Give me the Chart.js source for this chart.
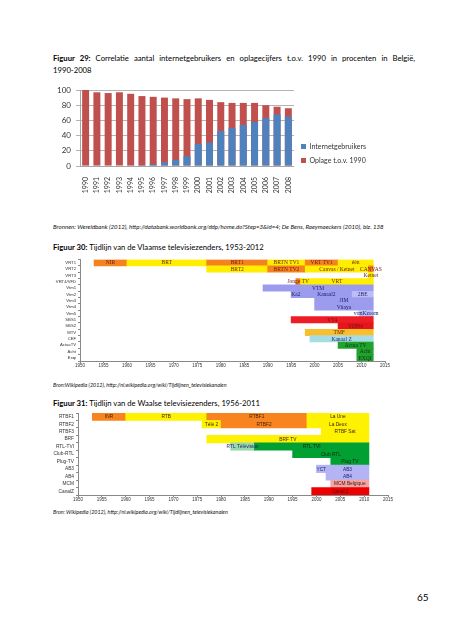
<!DOCTYPE html>
<html>
<head>
<meta charset="utf-8">
<script src="https://cdn.jsdelivr.net/npm/chart.js@4.4.1/dist/chart.umd.min.js"></script>
<style>
  html, body { margin: 0; padding: 0; background: #fff; }
  body { width: 453px; height: 640px; position: relative; overflow: hidden; font-family: Lato, "Liberation Sans", sans-serif; color: #000; }
  .title { position: absolute; left: 53px; font-size: 7.7px; line-height: 12px; white-space: nowrap; }
  .wide { display: block; width: 362px; white-space: normal; text-align: justify; text-align-last: justify; }
  .src { position: absolute; left: 53px; font-size: 6.1px; font-style: italic; white-space: nowrap; color: #111; }
  .src.short { font-size: 5.4px; }
  .pnum { position: absolute; left: 417px; top: 591px; font-size: 10px; }
  canvas { position: absolute; }
</style>
</head>
<body>

<div class="title" style="top:52px"><span class="wide"><b>Figuur 29:</b> Correlatie aantal internetgebruikers en oplagecijfers t.o.v. 1990 in procenten in België,</span>1990-2008</div>
<canvas id="fig29" width="340" height="137" style="left:40px;top:80px"></canvas>
<div class="src" style="top:223px">Bronnen: Wereldbank (2012), http://databank.worldbank.org/ddp/home.do?Step=3&amp;id=4; De Bens, Raeymaeckers (2010), blz. 138</div>

<div class="title" style="top:241px"><b>Figuur 30:</b> Tijdlijn van de Vlaamse televisiezenders, 1953-2012</div>
<canvas id="fig30" width="380" height="114" style="left:20px;top:255px"></canvas>
<div class="src short" style="top:382px">Bron:Wikipedia (2012), http://nl.wikipedia.org/wiki/Tijdlijnen_televisiekanalen</div>

<div class="title" style="top:397px"><b>Figuur 31:</b> Tijdlijn van de Waalse televisiezenders, 1956-2011</div>
<canvas id="fig31" width="385" height="96" style="left:20px;top:408px"></canvas>
<div class="src short" style="top:509px">Bron: Wikipedia (2012), http://nl.wikipedia.org/wiki/Tijdlijnen_televisiekanalen</div>

<div class="pnum">65</div>

<script>
// --- figuur 29 data ---
const years = ['1990','1991','1992','1993','1994','1995','1996','1997','1998','1999','2000','2001','2002','2003','2004','2005','2006','2007','2008'];
const internetgebruikers = [0.3, 0.4, 0.5, 0.7, 1, 1.3, 2.5, 5, 8, 13, 29, 31, 46, 50, 54, 58, 63, 68, 65];
const oplage = [100, 97, 96, 97, 95, 92, 91, 90, 89, 88, 89, 87, 84, 83, 83, 83, 80, 78, 76];
const seriesNames = ['Internetgebruikers', 'Oplage t.o.v. 1990'];
const pctTicks = [0, 20, 40, 60, 80, 100];

// --- figuur 30 data (Vlaamse zenders) ---
const vlRows = ['VRT1','VRT2','VRT3','VRT4/VFD','Vtm1','Vtm2','Vtm3','Vtm4','Vtm5','SBS1','SBS2','MTV','CEF','ActuaTV','Acht','Exqi'];
const vlName = ['NIR','BRT','BRT1','BRTN TV1','VRT TV1','één','BRT2','BRTN TV2','Canvas / Ketnet','CANVAS','Ketnet','Jonge TV','VRT','VTM','Ka2','Kanaal2','2BE','JIM','Vitaya','vtmKzoom','VT4','VIJFtv','TMF','Kanaal Z','Actua TV','Acht','EXQI'];
const vlRow  = [0,0,0,0,0,0, 1,1,1,1, 2, 3,3, 4, 5,5,5, 6, 7, 8, 9, 10, 11, 12, 13, 14, 15];
const vlFrom = [1953,1960,1977,1990,1998,2005, 1977,1990,1998,2011.5, 2011.5, 1996,1997, 1989, 1995,1997,2008, 2000, 2000, 2009.5, 1995, 2005, 1998, 1999, 2005, 2009, 2009];
const vlTo   = [1960,1977,1990,1998,2005,2012.5, 1990,1998,2011.5,2012.5, 2012.5, 1997,2012.5, 2012.5, 1997,2008,2012.5, 2012.5, 2012.5, 2012.5, 2012.5, 2012.5, 2012.5, 2012.5, 2012.5, 2012.5, 2012.5];
const vlKind = ['pubA','pubB','pubA','pubB','pubA','pubB', 'pubB','pubA','pubB','pubA', 'pubB', 'pubA','pubB', 'vmma', 'vmma','vmma','vmmaNew', 'vmma', 'vmma', 'vmmaNew', 'sbs', 'sbs2', 'mtv', 'roul', 'indep', 'indep', 'indep'];
const vlYears = [1950,1955,1960,1965,1970,1975,1980,1985,1990,1995,2000,2005,2010,2015];

// --- figuur 31 data (Waalse zenders) ---
const wlRows = ['RTBF1','RTBF2','RTBF3','BRF','RTL-TVI','Club-RTL','Plug-TV','AB3','AB4','MCM','CanalZ'];
const wlName = ['INR','RTB','RTBF1','La Une','Télé 2','RTBF2','La Deux','RTBF Sat','BRF TV','RTL Télévision','RTL TVI','Club RTL','Plug TV','YCT','AB3','AB4','MCM Belgique','Canal Z'];
const wlRow  = [0,0,0,0, 1,1,1, 2, 3, 4,4, 5, 6, 7,7, 8, 9, 10];
const wlFrom = [1953,1960,1977,1998, 1976,1980,1998, 2001, 1977, 1982,1987, 1995, 2003, 2000,2002, 2002, 2003, 1999];
const wlTo   = [1960,1977,1998,2011, 1980,1998,2011, 2011, 2011, 1987,2011, 2011, 2011, 2002,2011, 2011, 2011, 2011];
const wlKind = ['pubA','pubB','pubA','pubB', 'pubB','pubA','pubB', 'pubB', 'pubB', 'rtlOld','rtl', 'rtl', 'rtl', 'ab','ab', 'ab', 'mcm', 'canalz'];
const wlYears = [1950,1955,1960,1965,1970,1975,1980,1985,1990,1995,2000,2005,2010,2015];

// --- styles ---
const vlFill = { pubA: '#F5821F', pubB: '#FFEE00', vmma: '#9C9CEE', vmmaNew: '#BDBDF6', sbs: '#EE1C24', sbs2: '#E3161E', mtv: '#F8BE2C', roul: '#A8DCE5', indep: '#1FA32E' };
const vlInk  = { pubA: '#6b1a10', pubB: '#6b1a10', vmma: '#1c1c6a', vmmaNew: '#1c1c6a', sbs: '#6b1010', sbs2: '#6b1010', mtv: '#6b1a10', roul: '#1c1c6a', indep: '#103010' };
const wlFill = { pubA: '#F7841F', pubB: '#FFF200', rtlOld: '#98D9AE', rtl: '#00A032', ab: '#B4B4F5', mcm: '#F4A4A4', canalz: '#EE0000' };
const wlInk  = { pubA: '#402010', pubB: '#402010', rtlOld: '#1c1c6a', rtl: '#102a10', ab: '#1c1c6a', mcm: '#402010', canalz: '#401010' };

// text in the middle of every floating bar
function barText(names, inks, font) {
  return {
    id: 'barText',
    afterDatasetsDraw(chart) {
      const ctx = chart.ctx;
      const meta = chart.getDatasetMeta(0);
      ctx.save();
      ctx.font = font;
      ctx.textAlign = 'center';
      ctx.textBaseline = 'middle';
      meta.data.forEach(function (bar, i) {
        const p = bar.getProps(['x', 'y', 'base'], true);
        ctx.fillStyle = inks[i];
        ctx.fillText(names[i], (p.x + p.base) / 2, p.y + 0.3);
      });
      ctx.restore();
    }
  };
}

// --- figuur 29 ---
new Chart(document.getElementById('fig29'), {
  type: 'bar',
  data: {
    labels: years,
    datasets: [{
      label: seriesNames[0],
      data: internetgebruikers,
      backgroundColor: '#4F81BD',
      grouped: false,
      barPercentage: 0.62,
      categoryPercentage: 1
    }, {
      label: seriesNames[1],
      data: oplage,
      backgroundColor: '#C0504D',
      grouped: false,
      barPercentage: 0.62,
      categoryPercentage: 1
    }]
  },
  options: {
    responsive: false,
    animation: false,
    layout: { padding: { top: 10, right: 4 } },
    plugins: {
      tooltip: { enabled: false },
      legend: {
        position: 'right',
        labels: { boxWidth: 5, boxHeight: 5, padding: 7, color: '#333', font: { family: 'Lato', size: 7 } }
      }
    },
    scales: {
      x: {
        grid: { display: false },
        border: { color: '#A6A6A6' },
        ticks: { minRotation: 90, maxRotation: 90, autoSkip: false, padding: 3, color: '#333', font: { family: 'Lato', size: 7 } },
        afterFit: function (s) { s.height = 51; }
      },
      y: {
        min: pctTicks[0],
        max: pctTicks[pctTicks.length - 1],
        ticks: { stepSize: pctTicks[1] - pctTicks[0], padding: 5, color: '#333', font: { family: 'Lato', size: 8 } },
        grid: { color: '#B4B4B4', tickLength: 4 },
        border: { color: '#A6A6A6' },
        afterFit: function (s) { s.width = 40; }
      }
    }
  }
});

// --- timelines ---
function timeline(id, rows, rowIdx, from, to, names, kinds, fill, ink, ticks, pad, axisH, labelW, opts) {
  const inks = kinds.map(function (k) { return ink[k]; });
  new Chart(document.getElementById(id), {
    type: 'bar',
    data: {
      labels: rows,
      datasets: [{
        data: rowIdx.map(function (r, i) { return { y: rows[r], x: [from[i], to[i]] }; }),
        backgroundColor: kinds.map(function (k) { return fill[k]; }),
        borderWidth: 0,
        grouped: false,
        barPercentage: 1,
        categoryPercentage: 1
      }]
    },
    options: {
      indexAxis: 'y',
      responsive: false,
      animation: false,
      layout: { padding: pad },
      plugins: { legend: { display: false }, tooltip: { enabled: false } },
      scales: {
        x: {
          type: 'linear',
          min: ticks[0],
          max: ticks[ticks.length - 1],
          ticks: { stepSize: ticks[1] - ticks[0], padding: 0, color: '#333', font: { family: opts.tickFamily, size: 4.5 }, callback: function (v) { return String(v); } },
          grid: { drawOnChartArea: false, tickLength: 2, color: '#888' },
          border: { color: '#888' },
          afterFit: function (s) { s.height = axisH; }
        },
        y: {
          ticks: { autoSkip: false, padding: 2, color: '#333', font: { family: opts.tickFamily, size: opts.rowSize } },
          grid: { drawOnChartArea: false, tickLength: 2, color: '#888' },
          border: { color: '#888' },
          afterFit: function (s) { s.width = labelW; }
        }
      }
    },
    plugins: [barText(names, inks, opts.barFont)]
  });
}

timeline('fig30', vlRows, vlRow, vlFrom, vlTo, vlName, vlKind, vlFill, vlInk, vlYears,
  { top: 4, right: 15 }, 8, 60,
  { tickFamily: 'Liberation Sans', rowSize: 4.2, barFont: '5.5px "Liberation Serif"' });

timeline('fig31', wlRows, wlRow, wlFrom, wlTo, wlName, wlKind, wlFill, wlInk, wlYears,
  { top: 5, right: 17 }, 9, 58,
  { tickFamily: 'Liberation Sans', rowSize: 4.8, barFont: '4.8px "Liberation Sans"' });
</script>
</body>
</html>
